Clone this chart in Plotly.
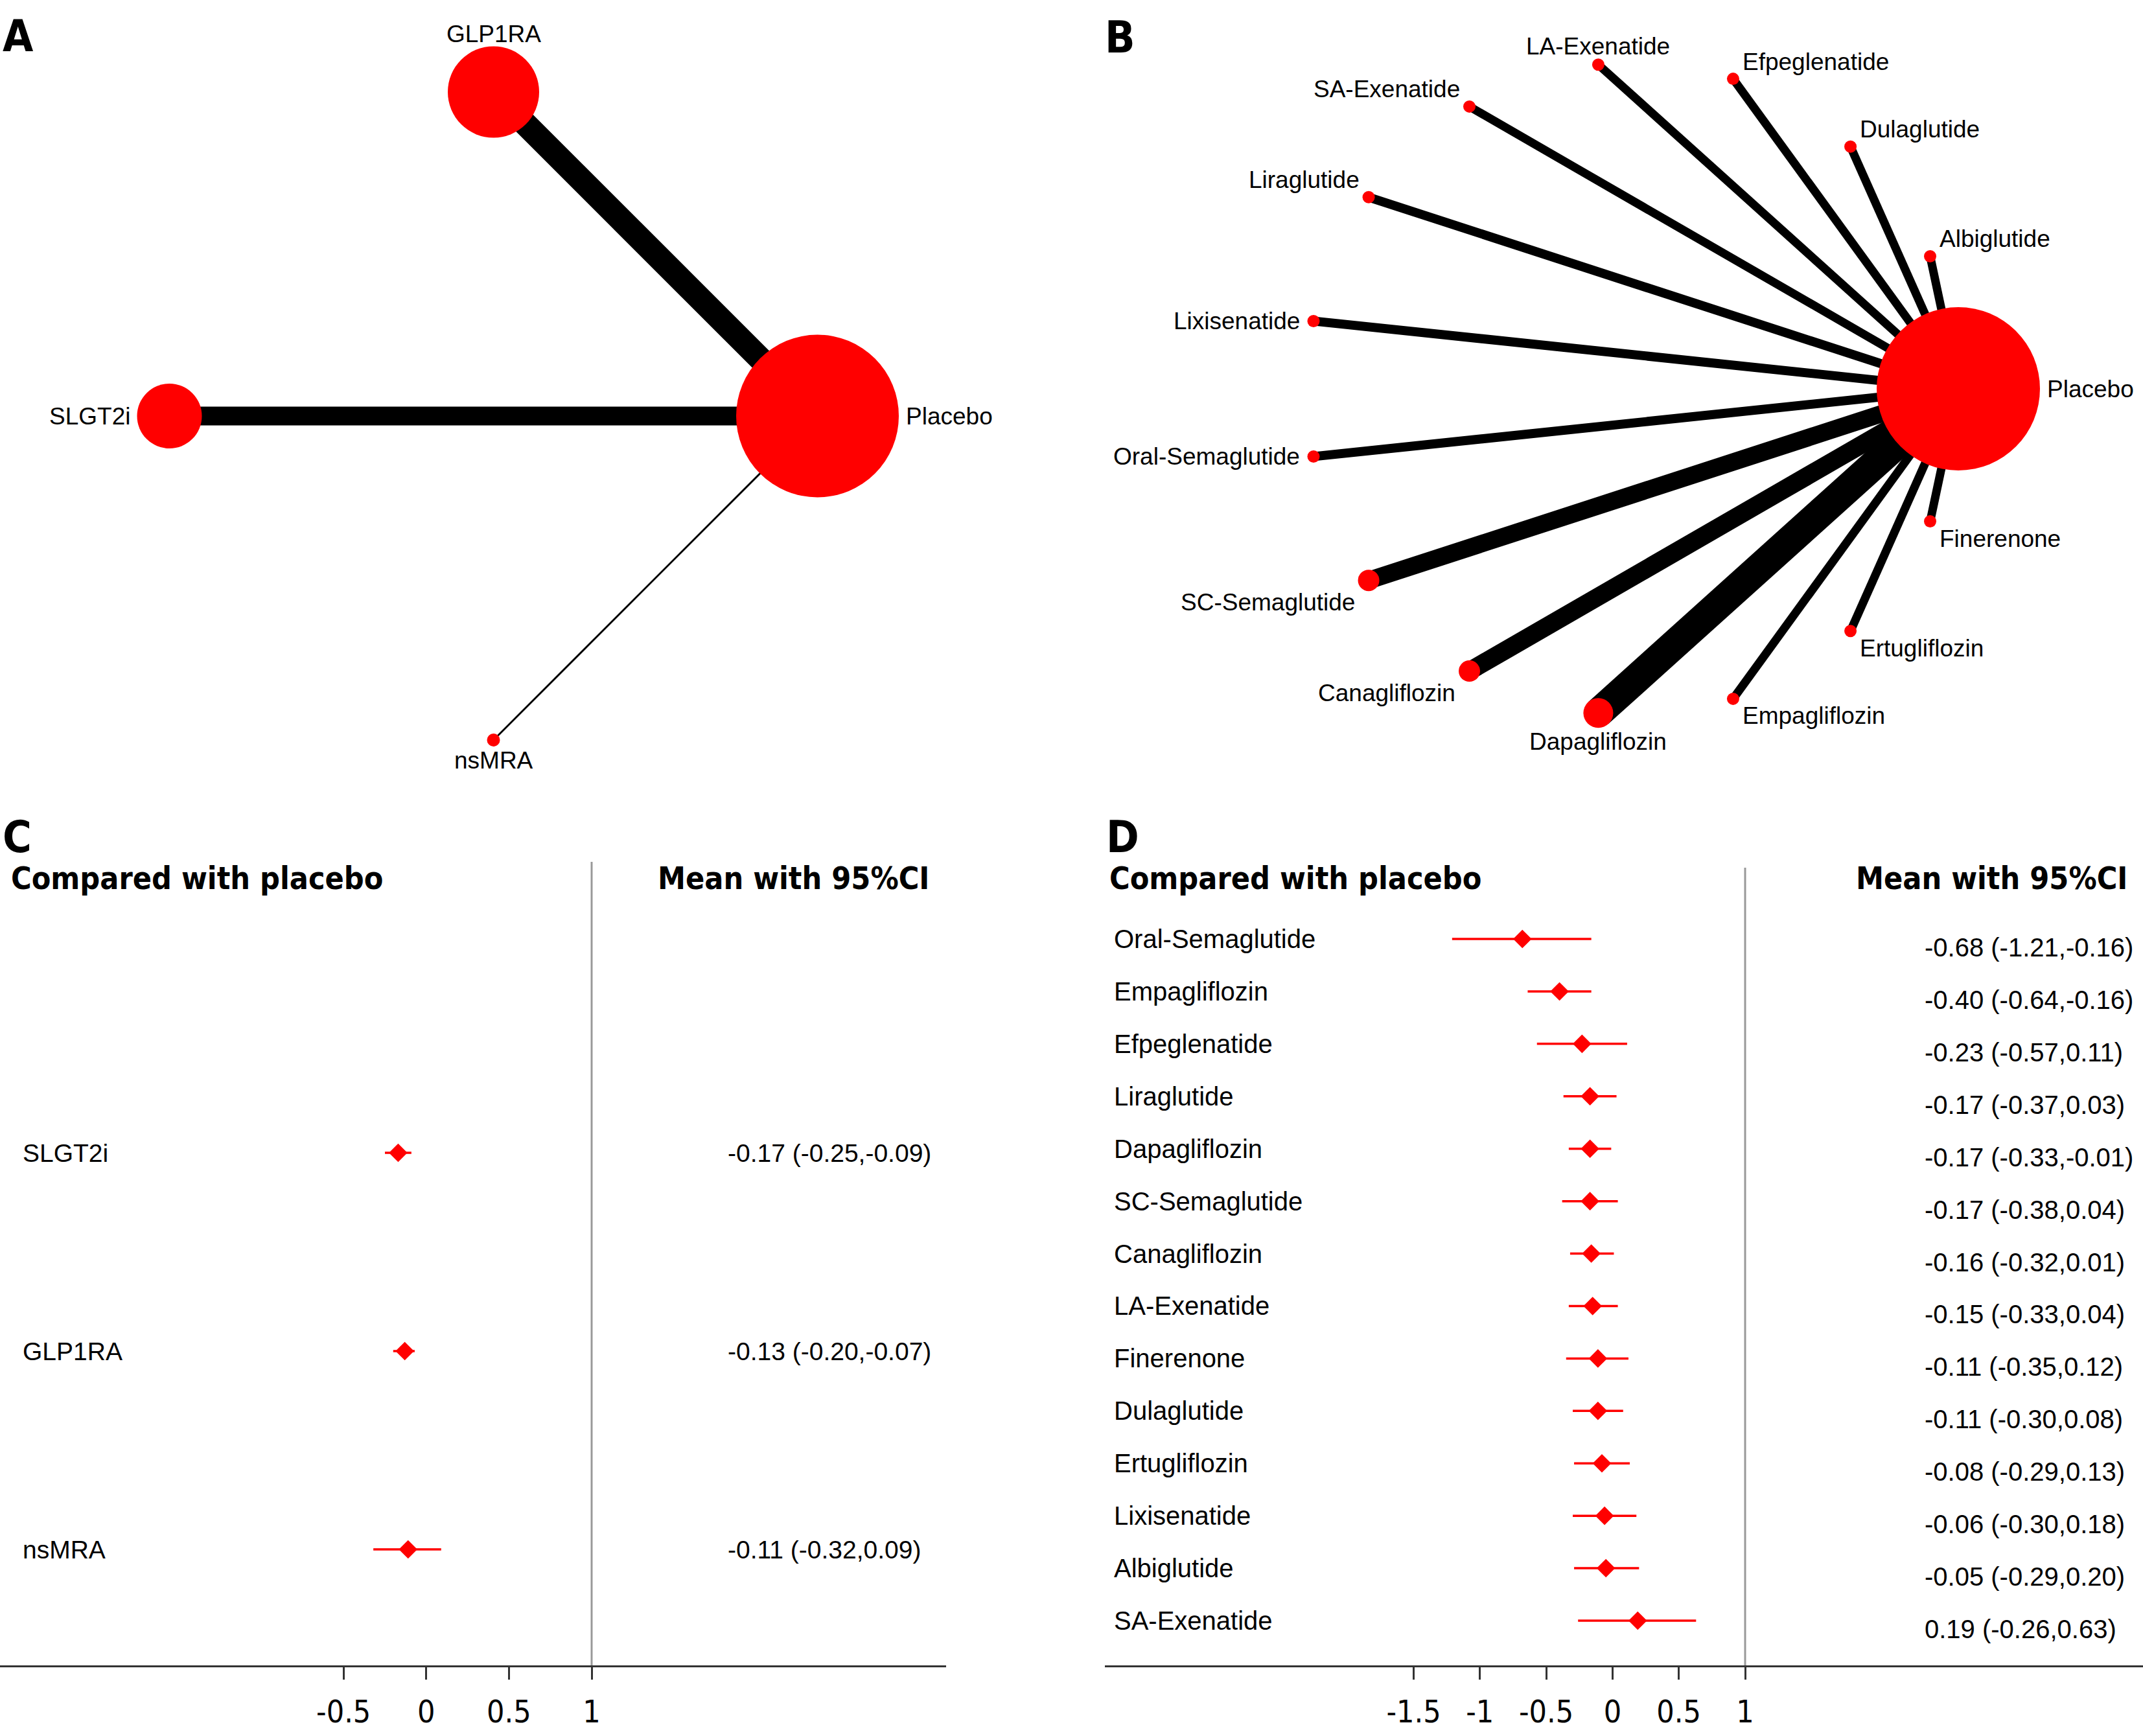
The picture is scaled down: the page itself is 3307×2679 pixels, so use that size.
import math
import plotly.graph_objects as go

W, H = 3307, 2679

# ---------------- data ----------------
# Panel A: class-level network
netA_nodes = ["Placebo", "GLP1RA", "SLGT2i", "nsMRA"]
netA_node_size = [251, 141, 100, 20]
netA_edge_width = [37, 29, 3]          # edges GLP1RA/SLGT2i/nsMRA -> Placebo

# Panel B: drug-level network
netB_nodes = ["Placebo", "Albiglutide", "Dulaglutide", "Efpeglenatide", "LA-Exenatide",
              "SA-Exenatide", "Liraglutide", "Lixisenatide", "Oral-Semaglutide",
              "SC-Semaglutide", "Canagliflozin", "Dapagliflozin", "Empagliflozin",
              "Ertugliflozin", "Finerenone"]
netB_node_size = [252, 19, 19, 19, 19, 19, 19, 19, 19, 33, 33, 46, 19, 19, 19]
netB_edge_width = [13, 13, 13, 13, 13, 14, 14, 14, 27, 28, 46, 13, 13, 13]

# Panel C: forest (classes)
c_names = ["SLGT2i", "GLP1RA", "nsMRA"]
c_mean = [-0.17, -0.13, -0.11]
c_lo = [-0.25, -0.20, -0.32]
c_hi = [-0.09, -0.07, 0.09]
c_ticks = [-0.5, 0, 0.5, 1]
c_ticktext = ["-0.5", "0", "0.5", "1"]

# Panel D: forest (drugs)
d_names = ["Oral-Semaglutide", "Empagliflozin", "Efpeglenatide", "Liraglutide",
           "Dapagliflozin", "SC-Semaglutide", "Canagliflozin", "LA-Exenatide",
           "Finerenone", "Dulaglutide", "Ertugliflozin", "Lixisenatide",
           "Albiglutide", "SA-Exenatide"]
d_mean = [-0.68, -0.40, -0.23, -0.17, -0.17, -0.17, -0.16, -0.15, -0.11, -0.11, -0.08, -0.06, -0.05, 0.19]
d_lo = [-1.21, -0.64, -0.57, -0.37, -0.33, -0.38, -0.32, -0.33, -0.35, -0.30, -0.29, -0.30, -0.29, -0.26]
d_hi = [-0.16, -0.16, 0.11, 0.03, -0.01, 0.04, 0.01, 0.04, 0.12, 0.08, 0.13, 0.18, 0.20, 0.63]
d_ticks = [-1.5, -1, -0.5, 0, 0.5, 1]
d_ticktext = ["-1.5", "-1", "-0.5", "0", "0.5", "1"]

# ---------------- styles ----------------
RED = "#ff0000"
LBL_FONT = dict(family="Liberation Sans, Arial, sans-serif", size=37, color="#000")
ROW_FONT = "Liberation Sans, Arial, sans-serif"
HEAD_FONT = dict(family="DejaVu Sans Condensed, DejaVu Sans, sans-serif", size=48, color="#000")
LETTER_FONT = dict(family="DejaVu Sans Condensed, DejaVu Sans, sans-serif", size=68, color="#000")
TICK_FONT = dict(family="DejaVu Sans Condensed, DejaVu Sans, sans-serif", size=48, color="#000")

fig = go.Figure()
annotations = []


def circle_layout(n):
    angs = [360.0 * k / n for k in range(n)]
    return angs, [math.cos(math.radians(a)) for a in angs], [math.sin(math.radians(a)) for a in angs]


def label_offset(deg, r):
    d = deg % 360
    if d < 10 or d > 350:
        return "left", "middle", r + 9, 0
    if d < 80:
        return "left", "middle", r + 3, r + 17
    if d <= 100:
        return "center", "middle", 0, r + 19
    if d < 160:
        return "right", "middle", -(r + 3), r + 17
    if d <= 200:
        return "right", "middle", -(r + 9), 0
    if d < 260:
        return "right", "middle", -(r + 3), -(r + 17)
    if d <= 280:
        return "center", "middle", 0, -(r + 21)
    return "left", "middle", r + 3, -(r + 17)


def draw_network(nodes, sizes, widths, xa, ya):
    angs, xs, ys = circle_layout(len(nodes))
    for i in range(1, len(nodes)):
        fig.add_trace(go.Scatter(x=[xs[i], xs[0]], y=[ys[i], ys[0]], mode="lines",
                                 line=dict(color="black", width=widths[i - 1]),
                                 xaxis=xa, yaxis=ya, hoverinfo="skip", showlegend=False,
                                 cliponaxis=False))
    fig.add_trace(go.Scatter(x=xs, y=ys, mode="markers",
                             marker=dict(size=sizes, color=RED, opacity=1, line=dict(width=0)),
                             xaxis=xa, yaxis=ya, hoverinfo="skip", showlegend=False,
                             cliponaxis=False))
    for name, a, x, y, s in zip(nodes, angs, xs, ys, sizes):
        xanc, yanc, dx, dy = label_offset(a, s / 2)
        annotations.append(dict(x=x, y=y, xref=xa, yref=ya, text=name, showarrow=False,
                                xanchor=xanc, yanchor=yanc, xshift=dx, yshift=dy,
                                font=LBL_FONT))


draw_network(netA_nodes, netA_node_size, netA_edge_width, "x", "y")
draw_network(netB_nodes, netB_node_size, netB_edge_width, "x2", "y2")


def draw_forest(names, mean, lo, hi, xa, ya, xlab, xval, fsize, val_shift):
    n = len(names)
    rows = [n - i for i in range(n)]
    cx, cy = [], []
    for l, h, r in zip(lo, hi, rows):
        cx += [l, h, None]
        cy += [r, r, None]
    fig.add_trace(go.Scatter(x=cx, y=cy, mode="lines", line=dict(color=RED, width=3.5),
                             xaxis=xa, yaxis=ya, hoverinfo="skip", showlegend=False,
                             cliponaxis=False))
    fig.add_trace(go.Scatter(x=mean, y=rows, mode="markers",
                             marker=dict(symbol="diamond", size=22, color=RED, opacity=1,
                                         line=dict(width=0)),
                             xaxis=xa, yaxis=ya, hoverinfo="skip", showlegend=False,
                             cliponaxis=False))
    for name, m, l, h, r in zip(names, mean, lo, hi, rows):
        annotations.append(dict(x=xlab, xref="paper", y=r, yref=ya, text=name, showarrow=False,
                                xanchor="left", yanchor="middle",
                                font=dict(family=ROW_FONT, size=fsize, color="#000")))
        annotations.append(dict(x=xval, xref="paper", y=r, yref=ya,
                                text=f"{m:.2f} ({l:.2f},{h:.2f})", showarrow=False,
                                xanchor="left", yanchor="middle", yshift=val_shift,
                                font=dict(family=ROW_FONT, size=fsize, color="#000")))
    fig.add_shape(type="line", xref=xa, x0=1, x1=1, yref=ya + " domain", y0=0, y1=1,
                  line=dict(color="#999999", width=3))


draw_forest(c_names, c_mean, c_lo, c_hi, "x3", "y3", 33 / W, 1121 / W, 39, 0)
draw_forest(d_names, d_mean, d_lo, d_hi, "x4", "y4", 1717 / W, 2968 / W, 40, -13)

# headers and panel letters
for x, xanc, txt in [(15 / W, "left", "Compared with placebo"), (1436 / W, "right", "Mean with 95%CI"),
                     (1710 / W, "left", "Compared with placebo"), (3285 / W, "right", "Mean with 95%CI")]:
    annotations.append(dict(x=x, y=1 - 1355 / H, xref="paper", yref="paper", text="<b>" + txt + "</b>",
                            showarrow=False, xanchor=xanc, yanchor="middle", font=HEAD_FONT))
for x, y, txt in [(2, 56, "A"), (1703, 58, "B"), (2, 1291, "C"), (1705, 1291, "D")]:
    annotations.append(dict(x=x / W, y=1 - y / H, xref="paper", yref="paper", text="<b>" + txt + "</b>",
                            showarrow=False, xanchor="left", yanchor="middle", font=LETTER_FONT))

hidden = dict(visible=False, showgrid=False, zeroline=False, fixedrange=True)
forest_x = dict(showline=True, linecolor="#333333", linewidth=3, ticks="outside", ticklen=19,
                tickwidth=3, tickcolor="#333333", showgrid=False, zeroline=False,
                tickfont=TICK_FONT, ticklabelstandoff=8, fixedrange=True)

# network A: center (761.5, 642) px, radius 500 px; network B: center (2519, 600), radius 503
fig.update_layout(
    width=W, height=H, margin=dict(l=0, r=0, t=0, b=0),
    paper_bgcolor="white", plot_bgcolor="white", showlegend=False,
    xaxis=dict(domain=[0, 1600 / W], range=[-761.5 / 500, (1600 - 761.5) / 500], anchor="y", **hidden),
    yaxis=dict(domain=[1 - 1250 / H, 1], range=[(642 - 1250) / 500, 642 / 500], anchor="x", **hidden),
    xaxis2=dict(domain=[1650 / W, 1], range=[(1650 - 2519) / 503, (3307 - 2519) / 503], anchor="y2", **hidden),
    yaxis2=dict(domain=[1 - 1250 / H, 1], range=[(600 - 1250) / 503, 600 / 503], anchor="x2", **hidden),
    xaxis3=dict(domain=[0, 1460 / W], range=[-657.8 / 255.2, (1460 - 657.8) / 255.2], anchor="y3",
                tickvals=c_ticks, ticktext=c_ticktext, **forest_x),
    yaxis3=dict(domain=[1 - 2570 / H, 1 - 1330 / H], range=[1 - (2570 - 2391) / 306, 3 + (1779 - 1330) / 306],
                anchor="x3", **hidden),
    xaxis4=dict(domain=[1705 / W, 1], range=[(1705 - 2488.4) / 204.6, (3307 - 2488.4) / 204.6], anchor="y4",
                tickvals=d_ticks, ticktext=d_ticktext, **forest_x),
    yaxis4=dict(domain=[1 - 2570 / H, 1 - 1339 / H], range=[1 - (2570 - 2501) / 80.9, 14 + (1449 - 1339) / 80.9],
                anchor="x4", **hidden),
    annotations=annotations,
)

fig.write_html("out.html", config={"displayModeBar": False},
               post_script="document.body.style.margin='0';document.body.style.overflow='hidden';")
